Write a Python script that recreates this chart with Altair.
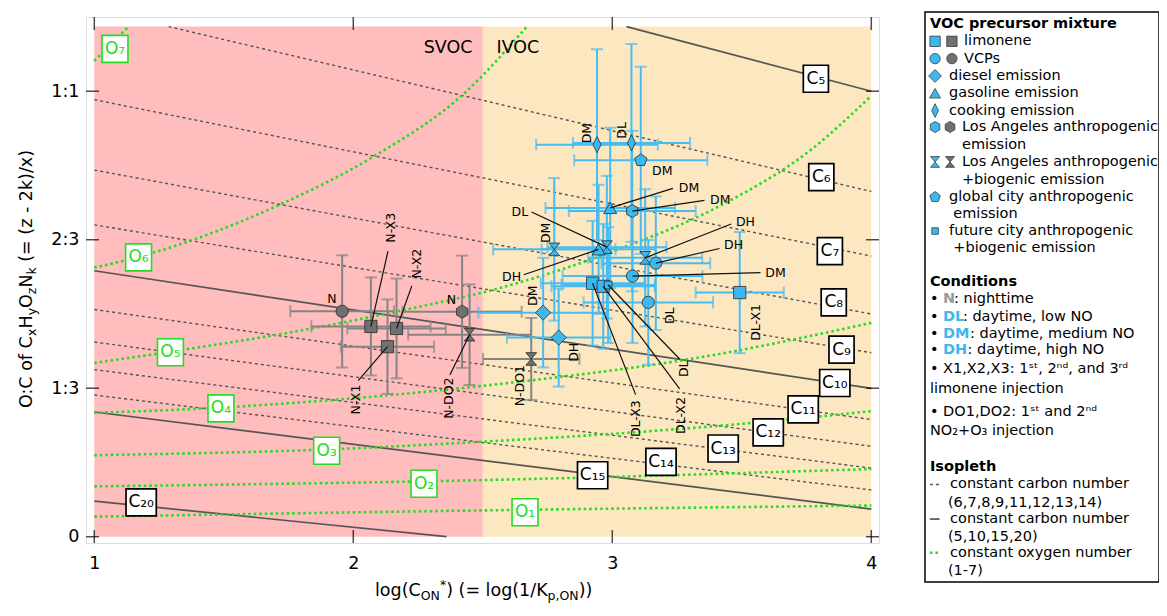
import altair as alt
import pandas as pd

FONT = "DejaVu Sans"

# ================= values =================
region_names = ["SVOC", "IVOC"]
region_x_lo = [1.0, 2.5]
region_x_hi = [2.5, 4.0]
region_top = [1.145, 1.145]

zone_text = ["SVOC", "IVOC"]
zone_text_x = [2.46, 2.553]
zone_text_y = [1.097, 1.097]

# constant carbon number isopleths (start / end points)
c_numbers = [5, 6, 7, 8, 9, 10, 11, 12, 13, 14, 15, 20]
c_x_start = [3.055, 1.287, 1.0, 1.0, 1.0, 1.0, 1.0, 1.0, 1.0, 1.0, 1.0, 1.0]
c_y_start = [1.145, 1.145, 0.981, 0.823, 0.700, 0.597, 0.510, 0.437, 0.375, 0.318, 0.280, 0.080]
c_x_end = [4.0, 4.0, 4.0, 4.0, 4.0, 4.0, 4.0, 4.0, 4.0, 4.0, 4.0, 2.36]
c_y_end = [1.000, 0.775, 0.630, 0.500, 0.413, 0.333, 0.263, 0.203, 0.154, 0.105, 0.062, 0.000]
c_solid = [5, 10, 15, 20]
c_label_x = [3.786, 3.807, 3.840, 3.855, 3.885, 3.859, 3.737, 3.602, 3.428, 3.188, 2.924, 1.181]
c_label_y = [1.028, 0.807, 0.641, 0.526, 0.420, 0.345, 0.286, 0.234, 0.198, 0.168, 0.138, 0.077]

# constant oxygen number isopleths (points along each curve)
o_numbers = [1, 2, 3, 4, 5, 6, 7]
o_x = [
    [1.0, 2.49, 4.0],
    [1.0, 2.57, 4.0],
    [1.0, 1.90, 2.49, 3.10, 3.55, 4.0],
    [1.0, 1.49, 1.76, 2.49, 2.76, 3.26, 4.0],
    [1.0, 1.29, 1.76, 2.18, 2.57, 3.00, 3.42, 3.77, 4.0],
    [1.0, 1.17, 1.73, 2.08, 2.43, 2.67],
    [1.0, 1.132],
]
o_y = [
    [0.045, 0.059, 0.070],
    [0.113, 0.128, 0.152],
    [0.183, 0.196, 0.213, 0.235, 0.256, 0.282],
    [0.278, 0.290, 0.300, 0.338, 0.356, 0.395, 0.480],
    [0.390, 0.415, 0.459, 0.507, 0.559, 0.640, 0.744, 0.870, 0.990],
    [0.604, 0.628, 0.749, 0.854, 0.996, 1.145],
    [1.068, 1.145],
]
o_label_x = [2.663, 2.273, 1.897, 1.489, 1.294, 1.171, 1.080]
o_label_y = [0.055, 0.119, 0.193, 0.288, 0.414, 0.627, 1.095]

# measurements
pt_mixture = ["cooking", "cooking", "global", "gasoline", "LA", "LAbio", "LAbio", "gasoline",
              "LAbio", "VCP", "VCP", "limonene", "limonene", "future", "VCP", "limonene",
              "diesel", "diesel",
              "VCP", "LA", "limonene", "limonene", "limonene", "LAbio", "LAbio"]
pt_condition = ["DM", "DL", "DM", "DM", "DM", "DM", "DL", "DH", "DH", "DH", "DM", "DL", "DL",
                "DL", "DL", "DL", "DM", "DH", "N", "N", "N", "N", "N", "N", "N"]
pt_x = [2.941, 3.074, 3.110, 2.992, 3.077, 2.776, 2.979, 2.947, 3.127, 3.168, 3.078, 2.924,
        2.965, 2.984, 3.139, 3.492, 2.733, 2.793,
        1.957, 2.420, 2.068, 2.167, 2.132, 2.449, 2.687]
pt_y = [0.880, 0.884, 0.845, 0.738, 0.731, 0.645, 0.650, 0.645, 0.626, 0.614, 0.585, 0.569,
        0.562, 0.565, 0.526, 0.548, 0.503, 0.447,
        0.506, 0.505, 0.472, 0.4675, 0.4266, 0.4535, 0.399]
pt_xerr = [0.235, 0.226, 0.257, 0.25, 0.245, 0.236, 0.23, 0.22, 0.22, 0.21, 0.27, 0.20,
           0.20, 0.18, 0.25, 0.17, 0.25, 0.20,
           0.20, 0.23, 0.23, 0.19, 0.18, 0.237, 0.186]
pt_yerr = [0.214, 0.222, 0.21, 0.18, 0.18, 0.16, 0.16, 0.145, 0.154, 0.15, 0.15, 0.14,
           0.14, 0.13, 0.14, 0.136, 0.123, 0.11,
           0.126, 0.126, 0.11, 0.112, 0.106, 0.113, 0.092]

# annotations of the measurements
pt_label = ["DM", "DL", "DM", "DM", "DM", "DM", "DL", "DH", "DH", "DH", "DM", "DL-X3", "DL-X2",
            "DL", "DL", "DL-X1", "DM", "DH", "N", "N", "N-X3", "N-X2", "N-X1", "N-DO2", "N-DO1"]
pt_label_x = [2.904, 3.038, 3.193, 3.296, 3.417, 2.743, 2.643, 2.611, 3.514, 3.468, 3.630, 3.093,
              3.266, 3.275, 3.221, 3.556, 2.694, 2.851, 1.917, 2.379, 2.145, 2.246, 2.010, 2.369, 2.643]
pt_label_y = [0.906, 0.912, 0.820, 0.782, 0.755, 0.682, 0.729, 0.583, 0.707, 0.655, 0.591, 0.265,
              0.272, 0.377, 0.496, 0.481, 0.541, 0.414, 0.533, 0.531, 0.6935, 0.613, 0.308, 0.311, 0.339]
pt_label_vertical = [1, 1, 0, 0, 0, 1, 0, 0, 0, 0, 0, 1, 1, 1, 1, 1, 1, 1, 0, 0, 1, 1, 1, 1, 1]
pt_leader_x = [None, None, None, 3.234, 3.356, None, 2.688, 2.658, 3.459, 3.414, 3.572, 3.090,
               3.260, 3.260, None, None, None, None, None, None, 2.134, 2.226, 2.019, 2.373, None]
pt_leader_y = [None, None, None, 0.782, 0.755, None, 0.729, 0.588, 0.702, 0.647, 0.593, 0.319,
               0.332, 0.399, None, None, None, None, None, None, 0.641, 0.563, 0.3506, 0.363, None]

x_ticks = [1, 2, 3, 4]
y_ticks = [0, 1 / 3, 2 / 3, 1]
y_tick_text = ["0", "1:3", "2:3", "1:1"]

# ================= styles =================
PINK, ORANGE = "#FFBDBD", "#FDE7C1"
BLUE, GRAY = "#3DB7EF", "#707070"
BLUE_BAR, GRAY_BAR = "#48BCF0", "#848484"
GREEN = "#22DD22"
ISO = "#555555"
HEXAGON = "M0,-1L0.866,-0.5L0.866,0.5L0,1L-0.866,0.5L-0.866,-0.5Z"
PENTAGON = "M0,-1L0.951,-0.309L0.588,0.809L-0.588,0.809L-0.951,-0.309Z"
HOURGLASS = "M-0.85,-1L0.85,-1L0,0ZM0,0L0.85,1L-0.85,1Z"
THIN_DIAMOND = "M0,-1L0.5,0L0,1L-0.5,0Z"
BOX_NARROW = "M-0.93,-1L0.93,-1L0.93,1L-0.93,1Z"
BOX_WIDE = "M-1.12,-1L1.12,-1L1.12,1L-1.12,1Z"
BOX_O = "M-0.96,-1L0.96,-1L0.96,1L-0.96,1Z"
MARKER = {"limonene": ("square", 150), "VCP": ("circle", 150), "diesel": ("diamond", 230),
          "gasoline": ("triangle-up", 170), "cooking": (THIN_DIAMOND, 260), "LA": (HEXAGON, 170),
          "LAbio": (HOURGLASS, 160), "global": (PENTAGON, 170), "future": ("square", 60)}
SUB = str.maketrans("0123456789", "₀₁₂₃₄₅₆₇₈₉")

X_LO, X_HI = 0.968, 4.0297
Y_LO, Y_HI = -0.0141, 1.1666
XS = alt.Scale(domain=[X_LO, X_HI], nice=False, zero=False)
YS = alt.Scale(domain=[Y_LO, Y_HI], nice=False, zero=False)
label_expr = " : ".join(
    [f"abs(datum.value - {v}) < 0.01 ? '{t}'" for v, t in zip(y_ticks, y_tick_text)] + ["''"])
XA = alt.Axis(values=x_ticks, title=None, grid=False, ticks=False, tickSize=0, domain=False,
              labelFontSize=17.5, labelFont=FONT, labelColor="black", labelPadding=11, labelFlush=False)
YA = alt.Axis(values=y_ticks, title=None, grid=False, ticks=False, tickSize=0, domain=False,
              labelFontSize=17.5, labelFont=FONT, labelColor="black", labelPadding=7,
              labelExpr=label_expr, labelFlush=False)


def ex(f):
    return alt.X(f, type="quantitative", scale=XS, axis=XA)


def ey(f):
    return alt.Y(f, type="quantitative", scale=YS, axis=YA)


layers = []
# shaded volatility regions
reg = pd.DataFrame({"name": region_names, "x0": region_x_lo, "x1": region_x_hi,
                    "y0": [0.0, 0.0], "y1": region_top})
for name, col in zip(region_names, [PINK, ORANGE]):
    layers.append(alt.Chart(reg[reg.name == name]).mark_rect(color=col).encode(
        x=ex("x0"), x2="x1", y=ey("y0"), y2="y1"))

# carbon isopleths
crow = []
for n, xs, ys, xe, ye in zip(c_numbers, c_x_start, c_y_start, c_x_end, c_y_end):
    crow.append({"n": n, "k": 0, "x": xs, "y": ys})
    crow.append({"n": n, "k": 1, "x": xe, "y": ye})
cdf = pd.DataFrame(crow)
layers.append(alt.Chart(cdf[~cdf.n.isin(c_solid)]).mark_line(
    color=ISO, strokeWidth=1.4, strokeDash=[3, 3]).encode(
    x=ex("x"), y=ey("y"), detail="n:N", order="k:Q"))
layers.append(alt.Chart(cdf[cdf.n.isin(c_solid)]).mark_line(
    color=ISO, strokeWidth=1.7).encode(x=ex("x"), y=ey("y"), detail="n:N", order="k:Q"))

# oxygen isopleths
orow = []
for n, xs, ys in zip(o_numbers, o_x, o_y):
    for i, (a, b) in enumerate(zip(xs, ys)):
        orow.append({"n": n, "k": i, "x": a, "y": b})
layers.append(alt.Chart(pd.DataFrame(orow)).mark_line(
    color=GREEN, strokeWidth=2.6, strokeDash=[2.5, 3], interpolate="monotone").encode(
    x=ex("x"), y=ey("y"), detail="n:N", order="k:Q"))

# isopleth labels
cl = pd.DataFrame({"x": c_label_x, "y": c_label_y,
                   "t": ["C" + str(n).translate(SUB) for n in c_numbers],
                   "shape": [BOX_NARROW if n < 10 else BOX_WIDE for n in c_numbers]})
ol = pd.DataFrame({"x": o_label_x, "y": o_label_y,
                   "t": ["O" + str(n).translate(SUB) for n in o_numbers]})
layers.append(alt.Chart(cl).mark_point(filled=True, fill="white", stroke="black", strokeWidth=1.7,
                                       size=729, opacity=1).encode(
    x=ex("x"), y=ey("y"), shape=alt.Shape("shape:N", scale=None)))
layers.append(alt.Chart(cl).mark_text(font=FONT, fontSize=17, color="black").encode(
    x=ex("x"), y=ey("y"), text="t:N"))
layers.append(alt.Chart(ol).mark_point(filled=True, fill="white", stroke=GREEN, strokeWidth=1.6,
                                       size=729, opacity=1, shape=BOX_O).encode(x=ex("x"), y=ey("y")))
layers.append(alt.Chart(ol).mark_text(font=FONT, fontSize=17, color=GREEN).encode(
    x=ex("x"), y=ey("y"), text="t:N"))

# zone names
zt = pd.DataFrame({"x": zone_text_x, "y": zone_text_y, "t": zone_text})
layers.append(alt.Chart(zt.iloc[[0]]).mark_text(font=FONT, fontSize=17.5, align="right",
                                                 color="black").encode(x=ex("x"), y=ey("y"), text="t:N"))
layers.append(alt.Chart(zt.iloc[[1]]).mark_text(font=FONT, fontSize=17.5, align="left",
                                                 color="black").encode(x=ex("x"), y=ey("y"), text="t:N"))

# measurements
pts = pd.DataFrame({"mix": pt_mixture, "cond": pt_condition, "x": pt_x, "y": pt_y,
                    "xerr": pt_xerr, "yerr": pt_yerr})
pts["shape"] = pts.mix.map(lambda m: MARKER[m][0])
pts["size"] = pts.mix.map(lambda m: MARKER[m][1])
pts["fill"] = [GRAY if c == "N" else BLUE for c in pts.cond]
pts["bar"] = [GRAY_BAR if c == "N" else BLUE_BAR for c in pts.cond]
pts["xlo"] = pts.x - pts.xerr
pts["xhi"] = pts.x + pts.xerr
pts["ylo"] = pts.y - pts.yerr
pts["yhi"] = pts.y + pts.yerr

for d in [pts[pts.cond == "N"], pts[pts.cond != "N"]]:
    col = alt.Color("bar:N", scale=None)
    layers.append(alt.Chart(d).mark_rule(strokeWidth=2).encode(
        x=ex("xlo"), x2="xhi", y=ey("y"), color=col))
    layers.append(alt.Chart(d).mark_rule(strokeWidth=2).encode(
        x=ex("x"), y=ey("ylo"), y2="yhi", color=col))
    capv = pd.concat([d.assign(cx=d.xlo), d.assign(cx=d.xhi)])
    caph = pd.concat([d.assign(cy=d.ylo), d.assign(cy=d.yhi)])
    layers.append(alt.Chart(capv).mark_tick(orient="vertical", size=12, thickness=2).encode(
        x=ex("cx"), y=ey("y"), color=col))
    layers.append(alt.Chart(caph).mark_tick(orient="horizontal", size=12, thickness=2).encode(
        x=ex("x"), y=ey("cy"), color=col))
    layers.append(alt.Chart(d).mark_point(filled=True, opacity=1, stroke="#2b2b2b",
                                          strokeWidth=0.8).encode(
        x=ex("x"), y=ey("y"), shape=alt.Shape("shape:N", scale=None),
        size=alt.Size("size:Q", scale=None), fill=alt.Fill("fill:N", scale=None)))

# leader lines and labels
lab = pd.DataFrame({"t": pt_label, "x": pt_label_x, "y": pt_label_y, "v": pt_label_vertical,
                    "px": pt_x, "py": pt_y, "lx": pt_leader_x, "ly": pt_leader_y})
lead = lab.dropna(subset=["lx"])
layers.append(alt.Chart(lead).mark_rule(color="#111111", strokeWidth=1.2).encode(
    x=ex("px"), y=ey("py"), x2="lx", y2="ly"))
layers.append(alt.Chart(lab[lab.v == 0]).mark_text(font=FONT, fontSize=12.5, color="black").encode(
    x=ex("x"), y=ey("y"), text="t:N"))
layers.append(alt.Chart(lab[lab.v == 1]).mark_text(font=FONT, fontSize=12.5, color="black",
                                                   angle=270).encode(
    x=ex("x"), y=ey("y"), text="t:N"))

# inward ticks on all four sides
xt = pd.DataFrame([(v, yy) for v in x_ticks for yy in (Y_LO, Y_HI)], columns=["x", "y"])
yt = pd.DataFrame([(xx, v) for v in y_ticks for xx in (X_LO, X_HI)], columns=["x", "y"])
layers.append(alt.Chart(xt).mark_tick(orient="vertical", size=26, thickness=1.5, color="black",
                                      clip=True).encode(x=ex("x"), y=ey("y")))
layers.append(alt.Chart(yt).mark_tick(orient="horizontal", size=26, thickness=1.5, color="black",
                                      clip=True).encode(x=ex("x"), y=ey("y")))

main = alt.layer(*layers)

# ================= legend panel =================
LXS = alt.Scale(domain=[0, 1], range=[839, 1073], nice=False, zero=False)
LYS = alt.Scale(domain=[0, 31.6], range=[7, 554], nice=False, zero=False)


def lx(f):
    return alt.X(f, type="quantitative", scale=LXS, axis=None)


def ly(f):
    return alt.Y(f, type="quantitative", scale=LYS, axis=None)


leg_normal = [
    (1, 0.167, "limonene"), (2, 0.167, "VCPs"), (3, 0.103, "diesel emission"),
    (4, 0.103, "gasoline emission"), (5, 0.103, "cooking emission"),
    (5.95, 0.158, "Los Angeles anthropogenic"), (7.0, 0.158, "emission"),
    (7.97, 0.158, "Los Angeles anthropogenic"), (9.0, 0.158, "+biogenic emission"),
    (10.0, 0.103, "global city anthropogenic"), (10.95, 0.121, "emission"),
    (11.96, 0.103, "future city anthropogenic"), (12.94, 0.121, "+biogenic emission"),
    (15.9, 0.021, "•"), (15.9, 0.124, ": nighttime"),
    (16.9, 0.021, "•"), (16.9, 0.162, ": daytime, low NO"),
    (17.9, 0.021, "•"), (17.9, 0.192, ": daytime, medium NO"),
    (18.85, 0.021, "•"), (18.85, 0.182, ": daytime, high NO"),
    (19.95, 0.021, "• X1,X2,X3: 1ˢᵗ, 2ⁿᵈ, and 3ʳᵈ"), (21.1, 0.021, "limonene injection"),
    (22.4, 0.021, "• DO1,DO2: 1ˢᵗ and 2ⁿᵈ"), (23.5, 0.021, "NO₂+O₃ injection"),
    (26.6, 0.107, "constant carbon number"), (27.65, 0.098, "(6,7,8,9,11,12,13,14)"),
    (28.6, 0.107, "constant carbon number"), (29.65, 0.098, "(5,10,15,20)"),
    (30.55, 0.107, "constant oxygen number"), (31.6, 0.098, "(1-7)"),
]
leg_bold = [
    (0, 0.021, "VOC precursor mixture", "black"), (14.9, 0.021, "Conditions", "black"),
    (25.6, 0.021, "Isopleth", "black"), (15.9, 0.077, "N", "#9A9A9A"),
    (16.9, 0.077, "DL", BLUE), (17.9, 0.077, "DM", BLUE), (18.85, 0.077, "DH", BLUE),
]
leg_marks = [
    (1, 0.043, "limonene", BLUE), (1, 0.115, "limonene", GRAY), (2, 0.043, "VCP", BLUE),
    (2, 0.115, "VCP", GRAY), (3, 0.043, "diesel", BLUE), (4, 0.043, "gasoline", BLUE),
    (5, 0.043, "cooking", BLUE), (5.95, 0.043, "LA", BLUE), (5.95, 0.107, "LA", GRAY),
    (7.97, 0.043, "LAbio", BLUE), (7.97, 0.107, "LAbio", GRAY), (10, 0.043, "global", BLUE),
    (11.96, 0.043, "future", BLUE),
]
ln = pd.DataFrame(leg_normal, columns=["r", "x", "t"])
lb = pd.DataFrame(leg_bold, columns=["r", "x", "t", "c"])
lm = pd.DataFrame(leg_marks, columns=["r", "x", "mix", "fill"])
lm["shape"] = lm.mix.map(lambda m: MARKER[m][0])
lm["size"] = lm.mix.map(lambda m: MARKER[m][1] * 0.72)
box = pd.DataFrame({"x0": [0.0], "x1": [1.0], "y0": [-0.69], "y1": [32.24]})
samples = pd.DataFrame({"r": [26.6, 28.6, 30.55], "x0": [0.021, 0.021, 0.021],
                        "x1": [0.062, 0.062, 0.058], "k": ["dash", "solid", "oxy"]})

leg_layers = [
    alt.Chart(box).mark_rect(fillOpacity=0, stroke="black", strokeWidth=1.5).encode(
        x=lx("x0"), x2="x1", y=ly("y0"), y2="y1"),
    alt.Chart(ln).mark_text(font=FONT, fontSize=14.5, align="left", color="black").encode(
        x=lx("x"), y=ly("r"), text="t:N"),
    alt.Chart(lb).mark_text(font=FONT, fontSize=14.5, align="left", fontWeight="bold").encode(
        x=lx("x"), y=ly("r"), text="t:N", color=alt.Color("c:N", scale=None)),
    alt.Chart(lm).mark_point(filled=True, opacity=1, stroke="#2b2b2b", strokeWidth=0.7).encode(
        x=lx("x"), y=ly("r"), shape=alt.Shape("shape:N", scale=None),
        size=alt.Size("size:Q", scale=None), fill=alt.Fill("fill:N", scale=None)),
    alt.Chart(samples[samples.k == "dash"]).mark_rule(color=ISO, strokeWidth=1.4,
                                                      strokeDash=[3, 3]).encode(
        x=lx("x0"), x2="x1", y=ly("r")),
    alt.Chart(samples[samples.k == "solid"]).mark_rule(color=ISO, strokeWidth=1.7).encode(
        x=lx("x0"), x2="x1", y=ly("r")),
    alt.Chart(samples[samples.k == "oxy"]).mark_rule(color=GREEN, strokeWidth=2.6,
                                                     strokeDash=[2.5, 3]).encode(
        x=lx("x0"), x2="x1", y=ly("r")),
]
legend = alt.layer(*leg_layers)

# ================= axis titles with sub/superscripts =================
WID = {' ': 651, '(': 799, ')': 799, '*': 1024, '-': 739, '/': 690, ':': 690, '=': 1716,
       ',': 651, '.': 651, 'C': 1430, 'H': 1540, 'K': 1343, 'N': 1532, 'O': 1612,
       'a': 1255, 'f': 721, 'g': 1300, 'k': 1186, 'l': 569, 'o': 1253, 'p': 1300,
       'x': 1212, 'y': 1212, 'z': 1075}


def tw(s, fs):
    return sum(WID.get(ch, 1303) for ch in s) / 2048.0 * fs


MAIN_FS, SUB_FS = 17.5, 12.5
ytitle = [("O:C of C", "m"), ("x", "s"), ("H", "m"), ("y", "s"), ("O", "m"), ("z", "s"),
          ("N", "m"), ("k", "s"), (" (= (z - 2k)/x)", "m")]
xtitle = [("log(C", "m"), ("ON", "s"), ("*", "p"), (") (= log(1/K", "m"), ("p,ON", "s"),
          ("))", "m")]
rows_v, rows_h = [], []
cur = 391.0
for t, k in ytitle:
    fs = MAIN_FS if k == "m" else SUB_FS
    if t.startswith(" "):
        cur -= tw(" ", fs)
        t = t.lstrip()
    rows_v.append({"px": -54.5 if k == "m" else -50.5, "py": cur, "t": t, "fs": fs})
    cur -= tw(t, fs)
cur = 289.0
for t, k in xtitle:
    fs = MAIN_FS if k == "m" else SUB_FS
    if t.startswith(" "):
        cur -= 0
    base = {"m": 579.0, "s": 583.0, "p": 572.0}[k]
    rows_h.append({"px": cur, "py": base, "t": t, "fs": fs})
    cur += tw(t, fs)

PS = alt.Scale(domain=[0, 1000], range=[0, 1000], nice=False, zero=False)
titles = alt.layer(
    alt.Chart(pd.DataFrame(rows_v)).mark_text(font=FONT, align="left", baseline="alphabetic",
                                              angle=270, color="black").encode(
        x=alt.X("px:Q", scale=PS, axis=None), y=alt.Y("py:Q", scale=PS, axis=None),
        text="t:N", size=alt.Size("fs:Q", scale=None)),
    alt.Chart(pd.DataFrame(rows_h)).mark_text(font=FONT, align="left", baseline="alphabetic",
                                              color="black").encode(
        x=alt.X("px:Q", scale=PS, axis=None), y=alt.Y("py:Q", scale=PS, axis=None),
        text="t:N", size=alt.Size("fs:Q", scale=None)),
)

chart = alt.layer(main, legend, titles).resolve_scale(
    x="independent", y="independent"
).properties(
    width=793, height=526,
    autosize=alt.AutoSizeParams(type="none"),
    padding={"left": 78, "top": 9, "right": 280, "bottom": 61},
).configure_view(stroke="black", strokeWidth=1.5).configure(font=FONT)

chart.save("out.html", embed_options={"renderer": "svg", "actions": False})
